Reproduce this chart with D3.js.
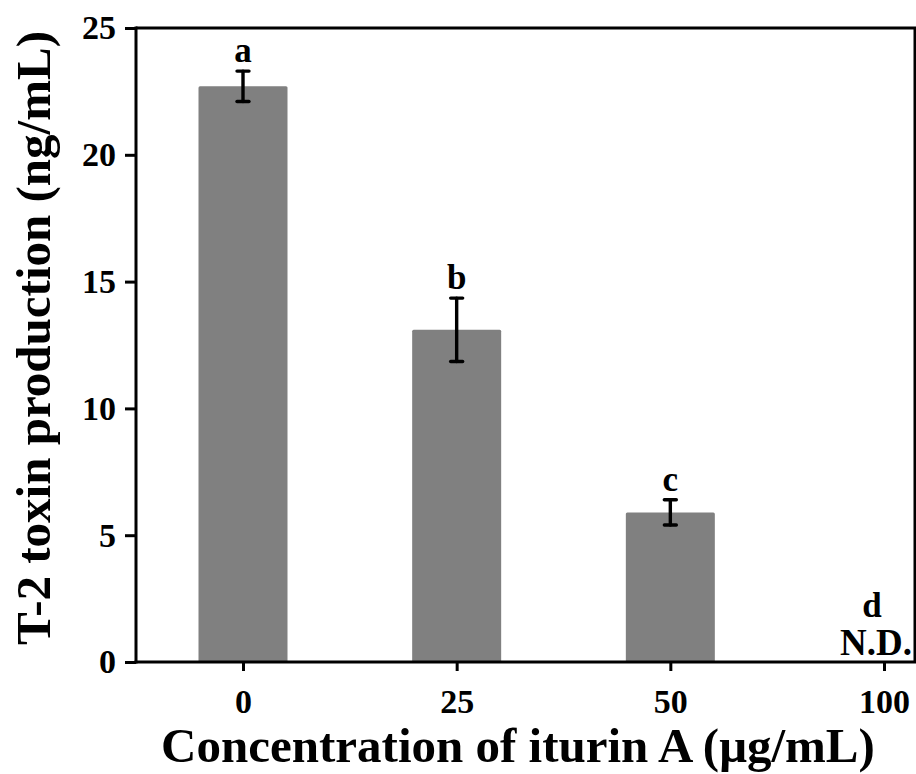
<!DOCTYPE html>
<html>
<head>
<meta charset="utf-8">
<script src="https://cdn.jsdelivr.net/npm/d3@7"></script>
<style>
  body { margin: 0; background: #fff; }
  text { font-family: "Liberation Serif", "Times New Roman", serif; font-weight: bold; }
</style>
</head>
<body>
<div id="chart"></div>
<script>
// data
var concentrations = ["0", "25", "50", "100"];
var toxinMeans = [22.7, 13.1, 5.9, 0];
var toxinErrors = [0.6, 1.25, 0.5, 0];
var groupLetters = ["a", "b", "c", "d"];
var yTicks = [0, 5, 10, 15, 20, 25];

var width = 916, height = 774;
var plotLeft = 136, plotRight = 915, plotTop = 28, plotBottom = 662;

var svg = d3.select("#chart")
  .append("svg")
  .attr("width", width)
  .attr("height", height);

var y = d3.scaleLinear().domain([0, 25]).range([plotBottom, plotTop]);
var x = d3.scalePoint().domain(concentrations).range([243, 884]);
var barWidth = 89;

// bars
svg.selectAll(".bar")
  .data(concentrations)
  .enter().append("rect")
  .attr("class", "bar")
  .attr("x", function(d) { return x(d) - barWidth / 2; })
  .attr("y", function(d, i) { return y(toxinMeans[i]); })
  .attr("width", barWidth)
  .attr("height", function(d, i) { return plotBottom - y(toxinMeans[i]); })
  .attr("rx", 1.5)
  .style("fill", "#808080");

// error bars
var err = svg.selectAll(".err")
  .data(concentrations.filter(function(d, i) { return toxinMeans[i] > 0; }))
  .enter().append("g")
  .attr("class", "err")
  .style("stroke", "#000")
  .style("stroke-width", 3.4)
  .style("stroke-linecap", "round");

function hi(d) { var i = concentrations.indexOf(d); return y(toxinMeans[i] + toxinErrors[i]); }
function lo(d) { var i = concentrations.indexOf(d); return y(toxinMeans[i] - toxinErrors[i]); }

err.append("line")
  .attr("x1", function(d) { return x(d); })
  .attr("x2", function(d) { return x(d); })
  .attr("y1", hi)
  .attr("y2", lo);
err.append("line")
  .attr("x1", function(d) { return x(d) - 6; })
  .attr("x2", function(d) { return x(d) + 6; })
  .attr("y1", hi)
  .attr("y2", hi);
err.append("line")
  .attr("x1", function(d) { return x(d) - 6; })
  .attr("x2", function(d) { return x(d) + 6; })
  .attr("y1", lo)
  .attr("y2", lo);

// significance letters
svg.selectAll(".letter")
  .data(concentrations)
  .enter().append("text")
  .attr("class", "letter")
  .attr("x", function(d, i) { return i == 3 ? x(d) - 12 : x(d); })
  .attr("y", function(d, i) {
    if (toxinMeans[i] == 0) return plotBottom - 45;
    return hi(d) - 9;
  })
  .attr("text-anchor", "middle")
  .style("font-size", "35px")
  .text(function(d, i) { return groupLetters[i]; });

svg.append("text")
  .attr("x", plotRight - 3)
  .attr("y", plotBottom - 7)
  .attr("text-anchor", "end")
  .style("font-size", "37px")
  .text("N.D.");

// frame lines (top and right)
svg.append("line")
  .attr("x1", plotLeft).attr("x2", plotRight + 2)
  .attr("y1", plotTop).attr("y2", plotTop)
  .style("stroke", "#000").style("stroke-width", 3);
svg.append("line")
  .attr("x1", plotRight).attr("x2", plotRight)
  .attr("y1", plotTop).attr("y2", plotBottom)
  .style("stroke", "#000").style("stroke-width", 3);

// axes
var yAxis = svg.append("g")
  .attr("transform", "translate(" + plotLeft + ",0)")
  .call(d3.axisLeft(y).tickValues(yTicks).tickSize(11).tickPadding(9));
var xAxis = svg.append("g")
  .attr("transform", "translate(0," + plotBottom + ")")
  .call(d3.axisBottom(x).tickSize(9).tickPadding(18));

[yAxis, xAxis].forEach(function(ax) {
  ax.select(".domain").remove();
  ax.selectAll(".tick line").style("stroke", "#000").style("stroke-width", 3);
  ax.selectAll(".tick text").style("font-size", "34px").style("fill", "#000")
    .style("font-family", "'Liberation Serif', 'Times New Roman', serif").style("font-weight", "bold");
});
svg.append("line")
  .attr("x1", plotLeft).attr("x2", plotLeft)
  .attr("y1", plotTop - 1.5).attr("y2", plotBottom + 1.5)
  .style("stroke", "#000").style("stroke-width", 3);
svg.append("line")
  .attr("x1", plotLeft - 1.5).attr("x2", plotRight + 2)
  .attr("y1", plotBottom).attr("y2", plotBottom)
  .style("stroke", "#000").style("stroke-width", 3);

// axis titles
svg.append("text")
  .attr("x", 518)
  .attr("y", 762)
  .attr("text-anchor", "middle")
  .style("font-size", "49px")
  .text("Concentration of iturin A (μg/mL)");

svg.append("text")
  .attr("transform", "translate(50,338) rotate(-90)")
  .attr("text-anchor", "middle")
  .style("font-size", "49px")
  .text("T-2 toxin production (ng/mL)");
</script>
</body>
</html>
